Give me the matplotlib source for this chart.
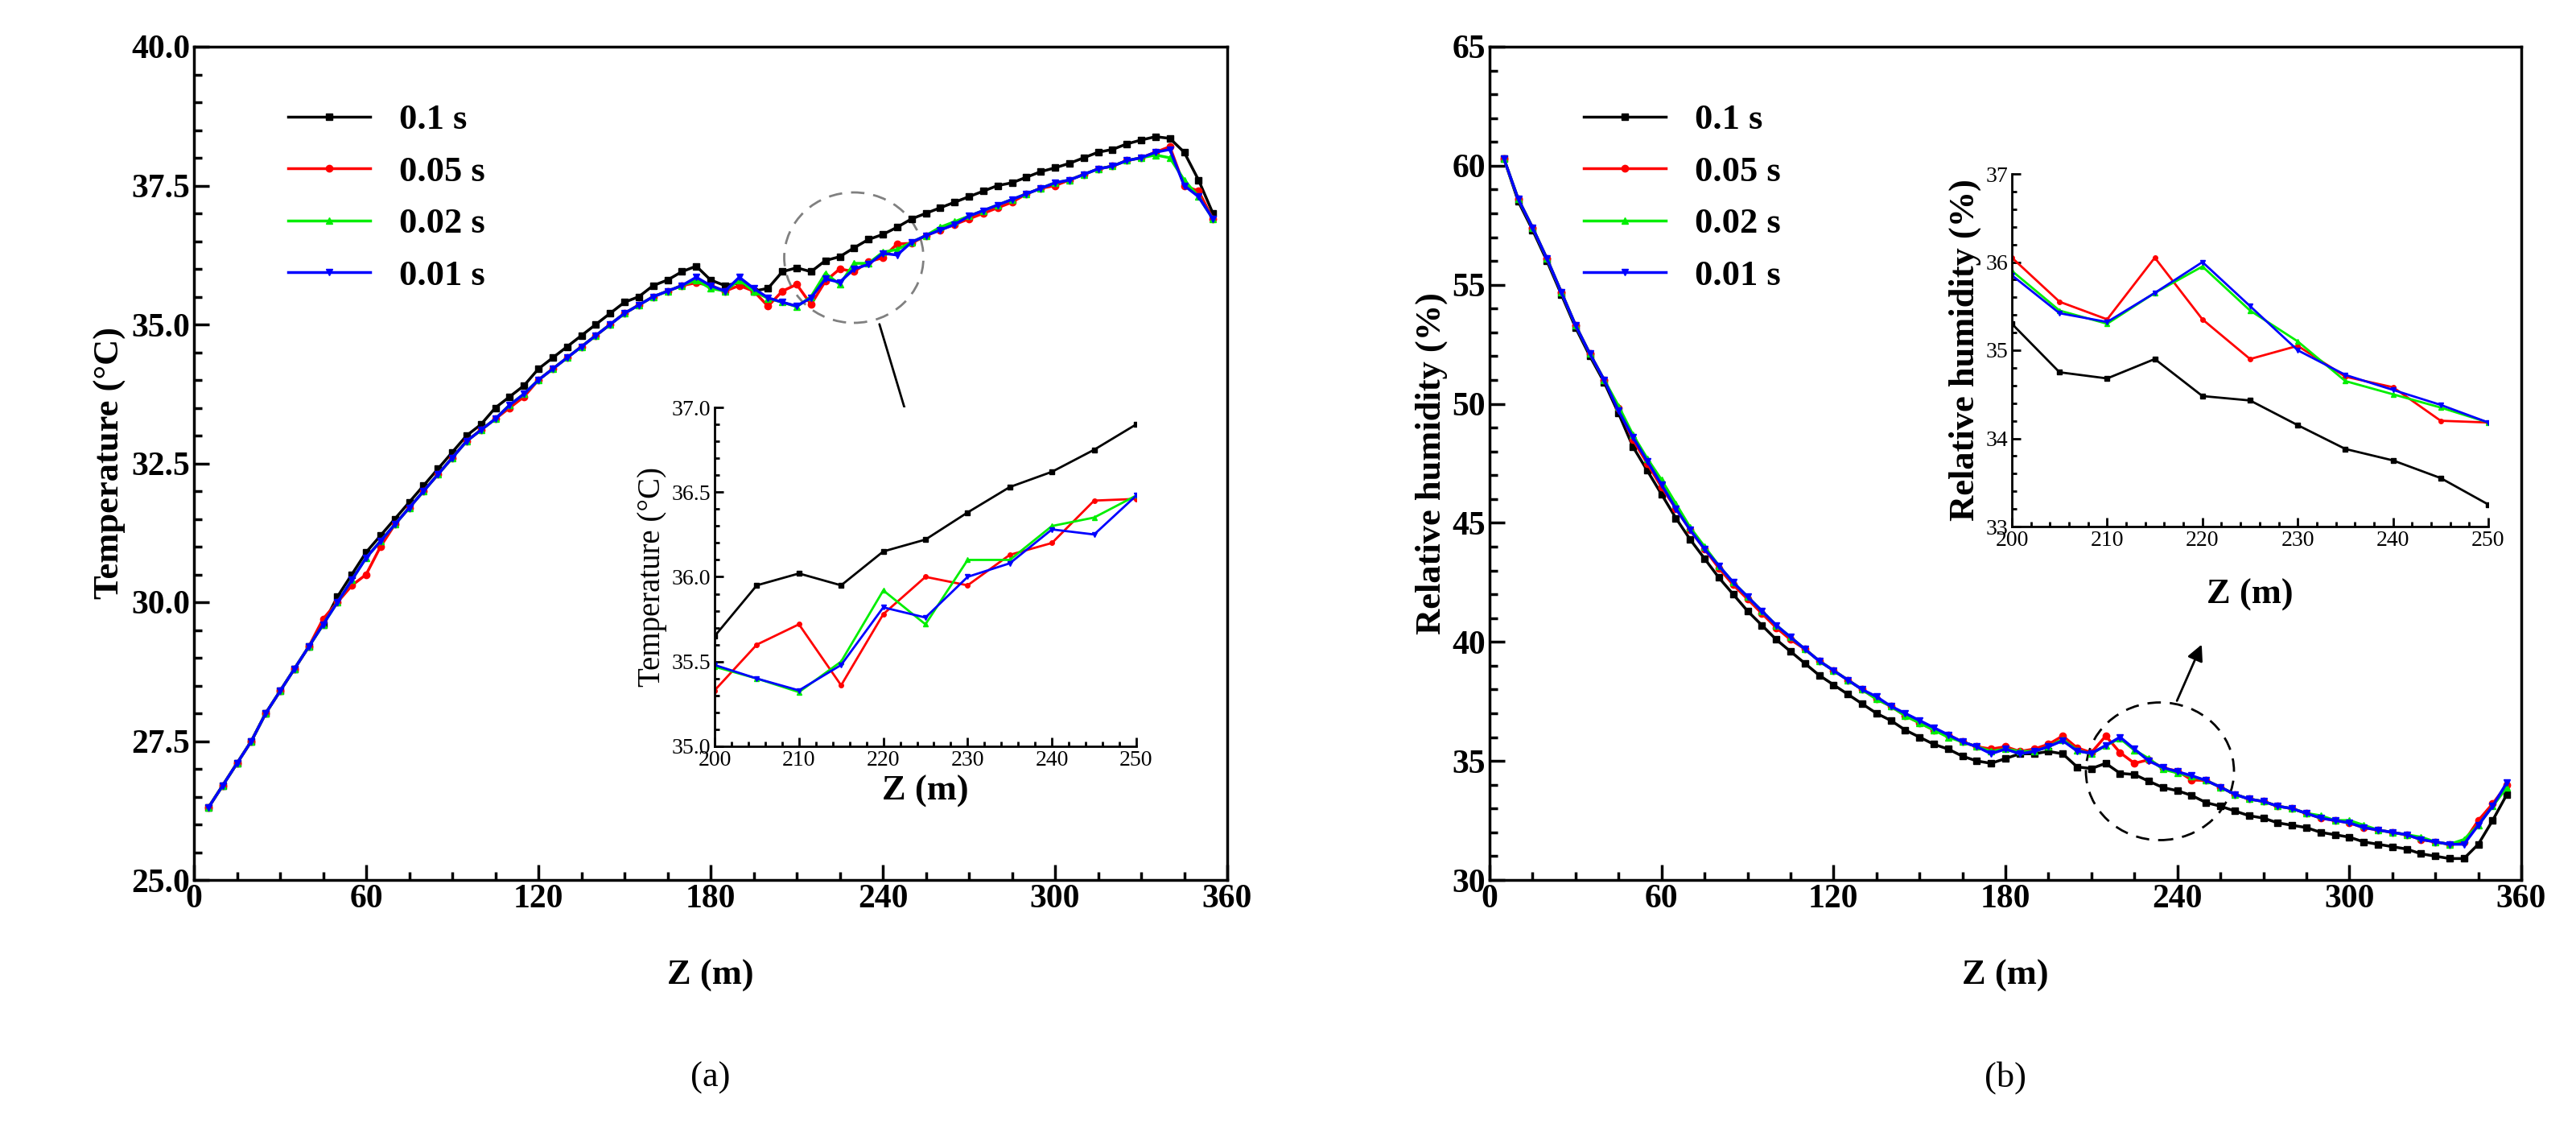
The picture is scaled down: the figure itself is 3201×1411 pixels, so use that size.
import numpy as np
import matplotlib.pyplot as plt
from matplotlib.patches import Ellipse

plt.rcParams['font.family'] = ['Liberation Serif', 'DejaVu Serif']
plt.rcParams['mathtext.fontset'] = 'stix'

# --- data ---
z = list(range(5, 360, 5))
labels = ['0.1 s', '0.05 s', '0.02 s', '0.01 s']
colors = ['black', 'red', '#00ee00', 'blue']
markers = ['s', 'o', '^', 'v']

temp_01 = [26.3, 26.7, 27.1, 27.5, 28.0, 28.4, 28.8, 29.2, 29.6, 30.1, 30.5, 30.9, 31.2, 31.5, 31.8,
           32.1, 32.4, 32.7, 33.0, 33.2, 33.5, 33.7, 33.9, 34.2, 34.4, 34.6, 34.8, 35.0, 35.2, 35.4,
           35.5, 35.7, 35.8, 35.95, 36.05, 35.8, 35.7, 35.75, 35.6, 35.65, 35.95, 36.02, 35.95, 36.15,
           36.22, 36.38, 36.53, 36.62, 36.75, 36.9, 37.0, 37.1, 37.2, 37.3, 37.4, 37.5, 37.55, 37.65,
           37.75, 37.82, 37.9, 38.0, 38.1, 38.15, 38.25, 38.32, 38.38, 38.35, 38.1, 37.6, 37.0]
temp_005 = [26.3, 26.7, 27.1, 27.5, 28.0, 28.4, 28.8, 29.2, 29.7, 30.0, 30.3, 30.5, 31.0, 31.4, 31.7,
            32.0, 32.3, 32.6, 32.9, 33.1, 33.3, 33.5, 33.7, 34.0, 34.2, 34.4, 34.6, 34.8, 35.0, 35.2,
            35.35, 35.5, 35.6, 35.7, 35.75, 35.7, 35.6, 35.7, 35.6, 35.33, 35.6, 35.72, 35.36, 35.78,
            36.0, 35.95, 36.13, 36.2, 36.45, 36.46, 36.6, 36.7, 36.8, 36.9, 37.0, 37.1, 37.2, 37.35,
            37.45, 37.5, 37.6, 37.7, 37.8, 37.85, 37.95, 38.0, 38.1, 38.2, 37.5, 37.4, 36.9]
temp_002 = [26.3, 26.7, 27.1, 27.5, 28.0, 28.4, 28.8, 29.2, 29.6, 30.0, 30.4, 30.8, 31.1, 31.4, 31.7,
            32.0, 32.3, 32.6, 32.9, 33.1, 33.3, 33.55, 33.75, 34.0, 34.2, 34.4, 34.6, 34.8, 35.0, 35.2,
            35.35, 35.5, 35.6, 35.7, 35.8, 35.65, 35.6, 35.8, 35.6, 35.47, 35.4, 35.32, 35.5, 35.92,
            35.72, 36.1, 36.1, 36.3, 36.35, 36.48, 36.6, 36.75, 36.85, 36.95, 37.05, 37.15, 37.25,
            37.35, 37.45, 37.55, 37.6, 37.7, 37.8, 37.85, 37.95, 38.0, 38.05, 38.0, 37.6, 37.3, 36.9]
temp_001 = [26.3, 26.7, 27.1, 27.5, 28.0, 28.4, 28.8, 29.2, 29.6, 30.0, 30.4, 30.8, 31.1, 31.4, 31.7,
            32.0, 32.3, 32.6, 32.9, 33.1, 33.3, 33.55, 33.75, 34.0, 34.2, 34.4, 34.6, 34.8, 35.0, 35.2,
            35.35, 35.5, 35.6, 35.7, 35.85, 35.7, 35.6, 35.85, 35.65, 35.48, 35.4, 35.33, 35.48, 35.82,
            35.76, 36.0, 36.08, 36.28, 36.25, 36.48, 36.6, 36.7, 36.8, 36.95, 37.05, 37.15, 37.25,
            37.35, 37.45, 37.55, 37.6, 37.7, 37.8, 37.85, 37.95, 38.0, 38.1, 38.15, 37.5, 37.3, 36.9]

rh_01 = [60.3, 58.5, 57.3, 56.0, 54.6, 53.2, 52.0, 50.9, 49.6, 48.2, 47.2, 46.2, 45.2, 44.3, 43.5,
         42.7, 42.0, 41.3, 40.7, 40.1, 39.6, 39.1, 38.6, 38.2, 37.8, 37.4, 37.0, 36.7, 36.3, 36.0,
         35.7, 35.5, 35.2, 35.0, 34.9, 35.1, 35.3, 35.3, 35.4, 35.3, 34.75, 34.68, 34.9, 34.48,
         34.43, 34.15, 33.88, 33.75, 33.55, 33.25, 33.1, 32.9, 32.7, 32.6, 32.4, 32.3, 32.2, 32.0,
         31.9, 31.8, 31.6, 31.5, 31.4, 31.3, 31.1, 31.0, 30.9, 30.9, 31.5, 32.5, 33.6]
rh_005 = [60.3, 58.6, 57.4, 56.1, 54.7, 53.3, 52.1, 51.0, 49.8, 48.5, 47.5, 46.5, 45.6, 44.7, 43.9,
          43.1, 42.4, 41.8, 41.2, 40.6, 40.1, 39.7, 39.2, 38.8, 38.4, 38.0, 37.6, 37.3, 36.9, 36.6,
          36.3, 36.1, 35.8, 35.6, 35.5, 35.6, 35.4, 35.5, 35.7, 36.05, 35.55, 35.35, 36.05, 35.35,
          34.9, 35.05, 34.7, 34.58, 34.2, 34.18, 33.9, 33.6, 33.4, 33.3, 33.1, 33.0, 32.8, 32.6,
          32.5, 32.4, 32.2, 32.1, 32.0, 31.9, 31.7, 31.6, 31.5, 31.6, 32.5, 33.2, 34.0]
rh_002 = [60.3, 58.6, 57.4, 56.1, 54.7, 53.3, 52.1, 51.0, 49.9, 48.7, 47.7, 46.8, 45.8, 44.8, 44.0,
          43.2, 42.5, 41.9, 41.3, 40.7, 40.2, 39.7, 39.2, 38.8, 38.4, 38.0, 37.6, 37.3, 36.9, 36.6,
          36.3, 36.0, 35.8, 35.6, 35.4, 35.5, 35.4, 35.4, 35.6, 35.9, 35.45, 35.3, 35.65, 35.95,
          35.45, 35.1, 34.65, 34.5, 34.35, 34.18, 33.9, 33.6, 33.4, 33.3, 33.1, 33.0, 32.8, 32.7,
          32.5, 32.5, 32.3, 32.1, 32.0, 31.9, 31.8, 31.6, 31.5, 31.7, 32.3, 33.1, 33.9]
rh_001 = [60.3, 58.6, 57.4, 56.1, 54.7, 53.3, 52.1, 51.0, 49.7, 48.6, 47.6, 46.6, 45.6, 44.7, 43.9,
          43.2, 42.5, 41.9, 41.3, 40.7, 40.2, 39.7, 39.2, 38.8, 38.4, 38.0, 37.7, 37.3, 37.0, 36.7,
          36.4, 36.1, 35.8, 35.6, 35.3, 35.5, 35.3, 35.4, 35.6, 35.85, 35.42, 35.32, 35.65, 36.0,
          35.5, 35.0, 34.72, 34.55, 34.38, 34.18, 33.9, 33.6, 33.4, 33.3, 33.1, 33.0, 32.8, 32.6,
          32.5, 32.4, 32.2, 32.1, 32.0, 31.9, 31.7, 31.6, 31.5, 31.5, 32.3, 33.1, 34.1]

temp = [temp_01, temp_005, temp_002, temp_001]
rh = [rh_01, rh_005, rh_002, rh_001]

W, H = 3201, 1411
fig = plt.figure(figsize=(W / 100, H / 100), dpi=100)


def fr(x0, y0, x1, y1):
    return [x0 / W, 1 - y1 / H, (x1 - x0) / W, (y1 - y0) / H]


def style(ax, fs, lw=2.5, major=14, minor=7):
    ax.tick_params(which='both', direction='in', labelsize=fs, width=lw)
    ax.tick_params(which='major', length=major)
    ax.tick_params(which='minor', length=minor)
    ax.minorticks_on()
    for s in ax.spines.values():
        s.set_linewidth(lw)


def draw(ax, xs, series, ms=6, lw=2.5):
    for ys, c, m, lab in zip(series, colors, markers, labels):
        ax.plot(xs, ys, color=c, marker=m, ms=ms, lw=lw, label=lab)


bold = {'fontweight': 'bold'}
zi = z[39:50]

# (a) temperature
ax1 = fig.add_axes(fr(241, 58, 1525, 1093))
draw(ax1, z, temp)
ax1.set_xlim(0, 360)
ax1.set_ylim(25, 40)
ax1.set_xticks(range(0, 361, 60))
ax1.set_yticks(np.arange(25, 40.1, 2.5))
ax1.yaxis.set_major_formatter(plt.FormatStrFormatter('%.1f'))
style(ax1, 30)
for t in ax1.get_xticklabels() + ax1.get_yticklabels():
    t.set_fontweight('bold')
ax1.set_xlabel('Z (m)', fontsize=32, labelpad=40, **bold)
ax1.set_ylabel('Temperature (°C)', fontsize=32, **bold)
ax1.legend(loc='upper left', bbox_to_anchor=(0.06, 0.97), frameon=False,
           prop={'size': 32, 'weight': 'bold'}, handlelength=2.3, labelspacing=0.55)
ax1.add_patch(Ellipse((1061 / W, 1 - 320 / H), 173 / W, 162 / H, transform=fig.transFigure,
                      fill=False, ls=(0, (6, 4)), color='gray', lw=2))
fig.text(0.5 * (241 + 1525) / W, 1 - 1350 / H, '(a)', fontsize=32, ha='center')

ins1 = fig.add_axes(fr(888, 506, 1412, 927))
draw(ins1, zi, [s[39:50] for s in temp], ms=4, lw=2)
ins1.set_xlim(200, 250)
ins1.set_ylim(35, 37)
ins1.set_xticks(range(200, 251, 10))
ins1.set_yticks(np.arange(35, 37.01, 0.5))
ins1.yaxis.set_major_formatter(plt.FormatStrFormatter('%.1f'))
style(ins1, 20, lw=2, major=8, minor=4)
ins1.spines['top'].set_visible(False)
ins1.spines['right'].set_visible(False)
ins1.set_xlabel('Z (m)', fontsize=32, **bold)
ins1.set_ylabel('Temperature (°C)', fontsize=28)
ax1.annotate('', xy=(1140 / W, 1 - 560 / H), xytext=(1092 / W, 1 - 400 / H),
             xycoords='figure fraction', arrowprops=dict(arrowstyle='-|>', color='black',
                                                         mutation_scale=30, lw=2))

# (b) relative humidity
ax2 = fig.add_axes(fr(1851, 58, 3133, 1093))
draw(ax2, z, rh)
ax2.set_xlim(0, 360)
ax2.set_ylim(30, 65)
ax2.set_xticks(range(0, 361, 60))
ax2.set_yticks(range(30, 66, 5))
style(ax2, 30)
for t in ax2.get_xticklabels() + ax2.get_yticklabels():
    t.set_fontweight('bold')
ax2.set_xlabel('Z (m)', fontsize=32, labelpad=40, **bold)
ax2.set_ylabel('Relative humidity (%)', fontsize=32, **bold)
ax2.legend(loc='upper left', bbox_to_anchor=(0.06, 0.97), frameon=False,
           prop={'size': 32, 'weight': 'bold'}, handlelength=2.3, labelspacing=0.55)
ax2.add_patch(Ellipse((2684 / W, 1 - 958 / H), 184 / W, 171 / H, transform=fig.transFigure,
                      fill=False, ls=(0, (6, 4)), color='black', lw=2))
ax2.annotate('', xy=(2737 / W, 1 - 798 / H), xytext=(2704 / W, 1 - 873 / H),
             xycoords='figure fraction', arrowprops=dict(arrowstyle='-|>', color='black',
                                                         mutation_scale=30, lw=2))
fig.text(0.5 * (1851 + 3133) / W, 1 - 1350 / H, '(b)', fontsize=32, ha='center')

ins2 = fig.add_axes(fr(2500, 216, 3092, 654))
draw(ins2, zi, [s[39:50] for s in rh], ms=4, lw=2)
ins2.set_xlim(200, 250)
ins2.set_ylim(33, 37)
ins2.set_xticks(range(200, 251, 10))
ins2.set_yticks(range(33, 38))
style(ins2, 20, lw=2, major=8, minor=4)
ins2.spines['top'].set_visible(False)
ins2.spines['right'].set_visible(False)
ins2.set_xlabel('Z (m)', fontsize=32, labelpad=25, **bold)
ins2.set_ylabel('Relative humidity (%)', fontsize=32, **bold)

fig.savefig('out.png', dpi=100)
